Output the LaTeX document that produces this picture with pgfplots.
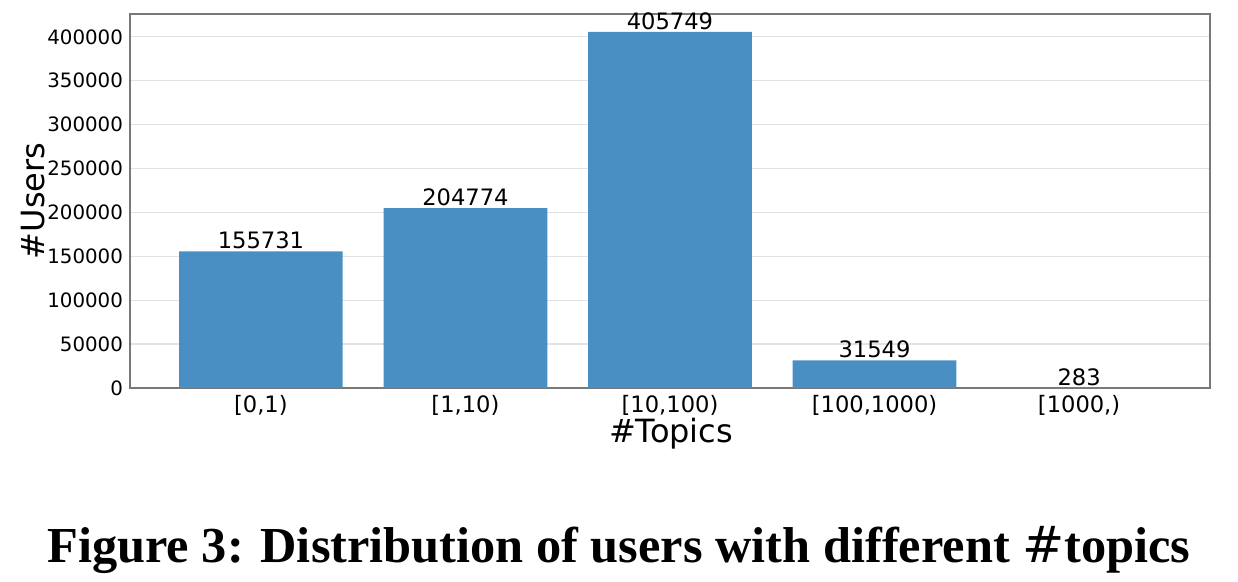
\documentclass[border=0pt]{standalone}
\usepackage{pgfplots}
\pgfplotsset{compat=1.18}
\usepackage{fontspec}
\setmainfont{DejaVu Sans}
\newfontfamily\capfont{Liberation Serif}
\definecolor{barblue}{RGB}{73,143,196}
\definecolor{gridgray}{RGB}{226,226,230}
\definecolor{framegray}{RGB}{120,120,120}
\begin{document}
\begin{tikzpicture}
\useasboundingbox (-65pt,-97pt) rectangle (554pt,194pt);
\begin{axis}[
  at={(0,0)}, anchor=south west,
  scale only axis, width=540pt, height=187pt,
  xmin=-0.64, xmax=4.64, ymin=0, ymax=426036,
  xtick={0,1,2,3,4},
  xticklabels={{[0,1)},{[1,10)},{[10,100)},{[100,1000)},{[1000,)}},
  ytick={0,50000,100000,150000,200000,250000,300000,350000,400000},
  scaled y ticks=false,
  /pgf/number format/.cd, fixed, precision=0, 1000 sep={}, assume math mode=true,
  /pgfplots/.cd,
  major tick length=0pt,
  ymajorgrids, major grid style={gridgray, line width=0.6pt},
  axis line style={framegray, line width=0.6pt},
  yticklabel style={font=\fontsize{9.9pt}{11pt}\selectfont},
  xticklabel style={font=\fontsize{11.3pt}{13pt}\selectfont, yshift=-0.3pt},
  xlabel={\#Topics}, ylabel={\#Users},
  label style={font=\fontsize{16pt}{18pt}\selectfont},
  xlabel style={at={(axis description cs:0.501,-0.121)}, anchor=center},
  ylabel style={at={(axis description cs:-0.0898,0.5)}, anchor=center},
  clip=false,
]
\addplot[ybar, bar width=0.8, fill=barblue, draw=none,
  point meta=explicit symbolic,
  nodes near coords,
  every node near coord/.append style={font=\fontsize{11.3pt}{13pt}\selectfont, text=black, inner sep=1pt, anchor=south},
] coordinates {(0,155731) [155731] (1,204774) [204774] (2,405749) [405749] (3,31549) [31549] (4,283) [283]};
\end{axis}
\node[anchor=base] at (244.5pt,-87.5pt) {\resizebox{571.5pt}{!}{\capfont\bfseries Figure 3: Distribution of users with different $\#$topics}};
\end{tikzpicture}
\end{document}
